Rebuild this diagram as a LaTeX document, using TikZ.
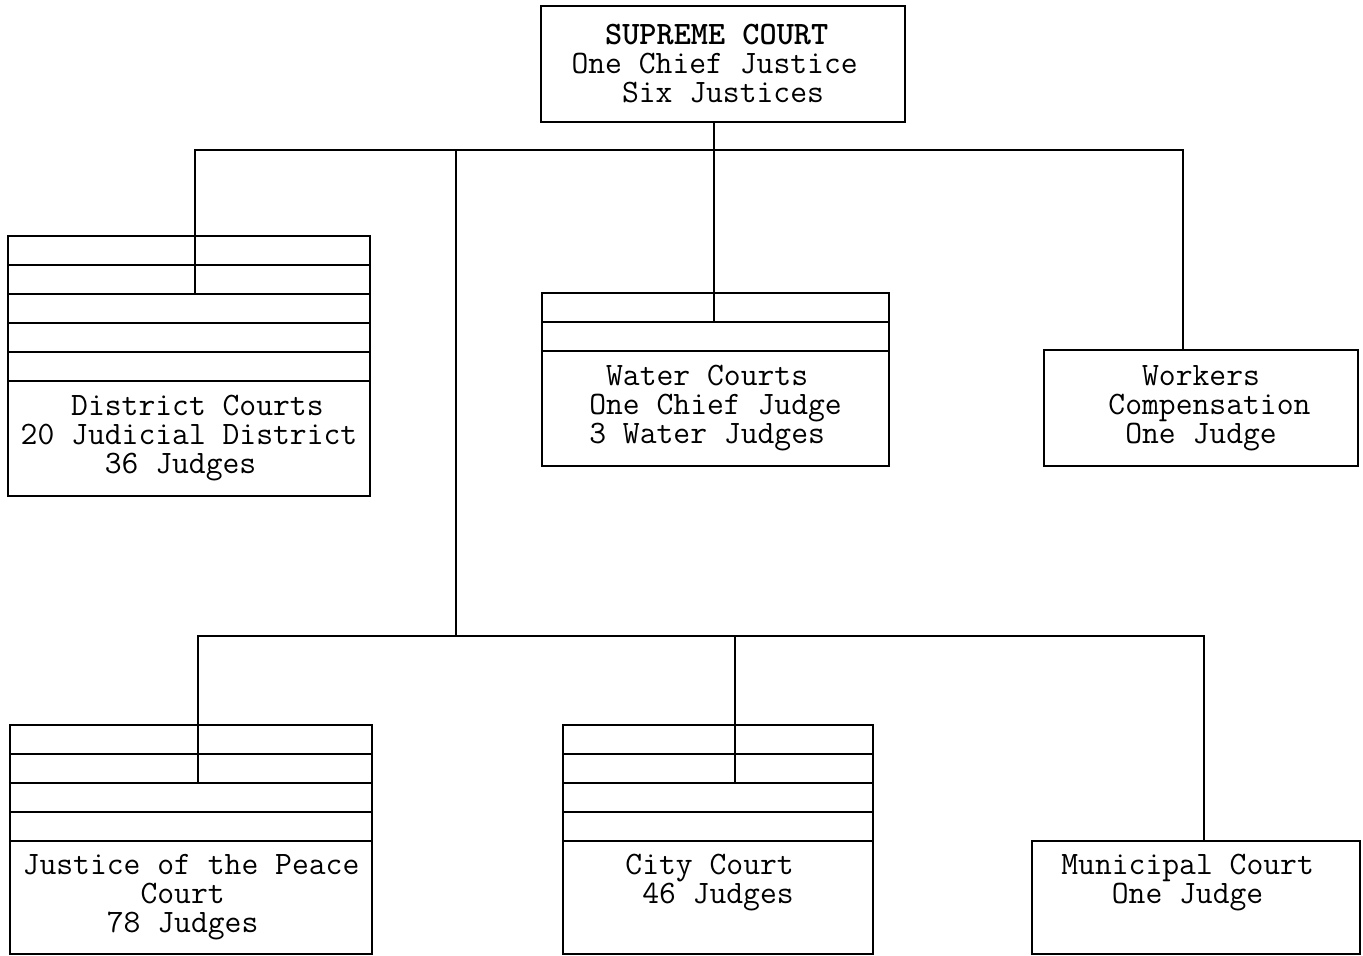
\documentclass[tikz,border=0pt]{standalone}
\usetikzlibrary{positioning}
\newcommand{\pad}[1]{\hphantom{#1}}

\begin{document}
\begin{tikzpicture}[
  every node/.style={font=\ttfamily\fontsize{18.6}{16.5}\selectfont, inner sep=0pt, outer sep=0pt, line width=0.9pt},
  court/.style={draw, minimum width=#1, minimum height=2.30cm, align=left},
  tier/.style={draw, minimum width=#1, minimum height=0.58cm, anchor=south},
  wire/.style={line width=0.9pt}
]
\fill[white] (0,0) rectangle (27.26,-19.12);
\useasboundingbox (0,0) rectangle (27.26,-19.12);

% top
\node[court=7.28cm, minimum height=2.32cm] (sc) at (14.46,-1.28)
  {\pad{00}\textbf{SUPREME COURT}\\One Chief Justice\pad{0}\\\pad{000}Six Justices};

% second level
\node[court=7.24cm] (dc0) at (3.78,-8.77)
  {\pad{000}District Courts\\20 Judicial District\\\pad{00000}36 Judges};
\node[court=6.94cm] (wc0) at (14.31,-8.17)
  {\pad{0}Water Courts\\One Chief Judge\\3 Water Judges};
\node[court=6.28cm, minimum height=2.32cm] (wk) at (24.02,-8.16)
  {\pad{000}Workers\\\pad{0}Compensation\\\pad{00}One Judge};

% third level
\node[court=7.24cm, minimum height=2.26cm] (jp0) at (3.82,-17.95)
  {Justice of the Peace\\\pad{0000000}Court\\\pad{00000}78 Judges};
\node[court=6.20cm, minimum height=2.26cm] (ct0) at (14.36,-17.95)
  {City Court\pad{0}\\\pad{0}46 Judges\\\phantom{g}};
\node[court=6.56cm, minimum height=2.26cm] (mc) at (23.92,-17.95)
  {Municipal Court\pad{0}\\\pad{000}One Judge\\\phantom{g}};

% stacked tiers above the courts
\foreach \cname/\cwidth/\cnum in {dc/7.24cm/5, wc/6.94cm/2, jp/7.24cm/4, ct/6.20cm/4}
  \foreach \i in {1,...,\cnum}
    \node[tier=\cwidth, yshift={(\i-1)*0.58cm}] (\cname\i) at (\cname0.north) {};

% junctions
\coordinate (top) at (14.28,-3.00);
\coordinate (mid) at (9.12,-3.00);
\coordinate (low) at (9.12,-12.72);
\coordinate (jdc) at (3.90,-3.00);
\coordinate (jwk) at (23.66,-3.00);
\coordinate (jjp) at (3.96,-12.72);
\coordinate (jct) at (14.70,-12.72);
\coordinate (jmc) at (24.08,-12.72);

\draw[wire] (top |- sc.south) -- (top |- wc2.south);
\draw[wire] (jdc |- dc4.south) -- (jdc) -- (jwk) -- (jwk |- wk.north);
\draw[wire] (mid) -- (low);
\draw[wire] (jjp |- jp3.south) -- (jjp) -- (jmc) -- (jmc |- mc.north);
\draw[wire] (jct) -- (jct |- ct3.south);
\end{tikzpicture}
\end{document}
